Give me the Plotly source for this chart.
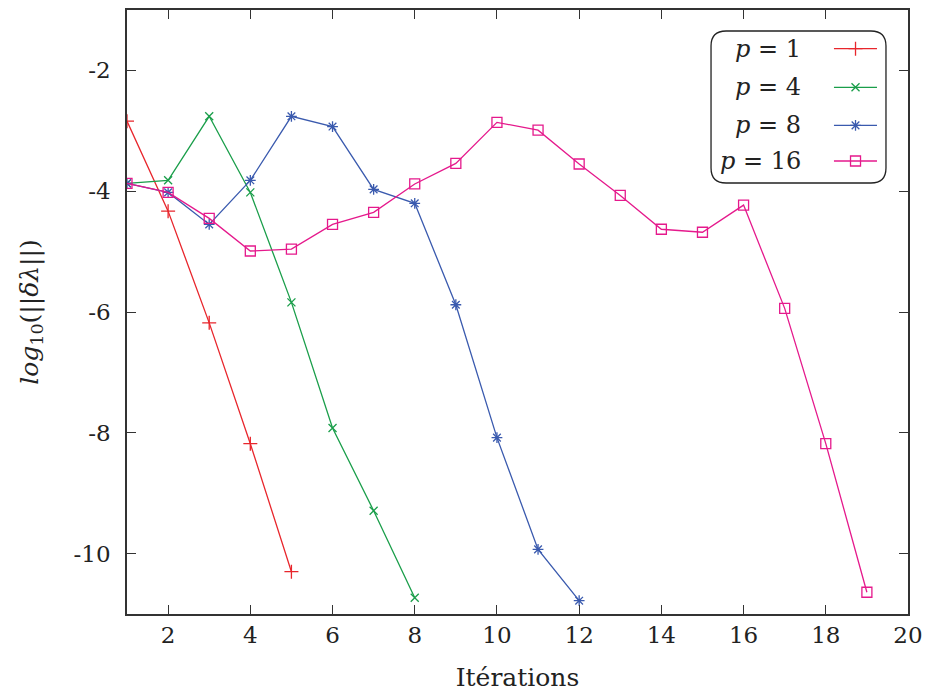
import plotly.graph_objects as go

iters_p1 = [1, 2, 3, 4, 5]
vals_p1 = [-2.84, -4.33, -6.18, -8.18, -10.30]
iters_p4 = [1, 2, 3, 4, 5, 6, 7, 8]
vals_p4 = [-3.87, -3.82, -2.76, -4.02, -5.84, -7.92, -9.29, -10.73]
iters_p8 = [1, 2, 3, 4, 5, 6, 7, 8, 9, 10, 11, 12]
vals_p8 = [-3.87, -4.02, -4.55, -3.82, -2.76, -2.93, -3.97, -4.20, -5.88, -8.08, -9.93, -10.78]
iters_p16 = list(range(1, 20))
vals_p16 = [-3.87, -4.02, -4.45, -4.99, -4.96, -4.55, -4.35, -3.88, -3.54, -2.86,
            -2.99, -3.55, -4.07, -4.63, -4.68, -4.23, -5.94, -8.18, -10.64]

series_names = ["<i>p</i> = 1", "<i>p</i> = 4", "<i>p</i> = 8", "<i>p</i> = 16"]
colors = ["#e8262c", "#1a9e4a", "#3a5aae", "#e5198c"]
symbols = ["cross-thin-open", "x-thin-open", "asterisk-open", "square-open"]
msizes = [10, 8, 9, 10]

x_ticks = [2, 4, 6, 8, 10, 12, 14, 16, 18, 20]
y_ticks = [-10, -8, -6, -4, -2]
y_ticklabels = ["-10", "-8", "-6", "-4", "-2"]

FONT = "DejaVu Serif, Liberation Serif, Noto Serif, Times New Roman, serif"
fig = go.Figure()

data = [(iters_p1, vals_p1), (iters_p4, vals_p4), (iters_p8, vals_p8), (iters_p16, vals_p16)]
for (xs, ys), c, s, ms in zip(data, colors, symbols, msizes):
    fig.add_trace(go.Scatter(x=xs, y=ys, mode="lines+markers",
                             line=dict(color=c, width=1.3),
                             marker=dict(symbol=s, size=ms, color=c, line=dict(color=c, width=1.3)),
                             showlegend=False))

# custom legend (text left, sample right) on an overlay axis in [0,1]
row_y = [0.936, 0.872, 0.809, 0.750]
for i, (name, c, s, ms) in enumerate(zip(series_names, colors, symbols, msizes)):
    fig.add_trace(go.Scatter(x=[0.9052, 0.9603], y=[row_y[i]] * 2,
                             mode="lines", xaxis="x2", yaxis="y2",
                             line=dict(color=c, width=1.3),
                             showlegend=False, hoverinfo="skip"))
    fig.add_trace(go.Scatter(x=[0.9328], y=[row_y[i]], mode="markers", xaxis="x2", yaxis="y2",
                             marker=dict(symbol=s, size=ms, color=c, line=dict(color=c, width=1.3)),
                             showlegend=False, hoverinfo="skip"))
    fig.add_annotation(x=0.8656, y=row_y[i], xref="paper", yref="paper", text=name,
                       showarrow=False, xanchor="right", yanchor="middle",
                       font=dict(family=FONT, size=24, color="#222"))

# rounded legend box
x0, x1, y0, y1 = 0.7478, 0.9718, 0.7136, 0.9652
rx, ry = 0.0192, 0.0248
path = (f"M {x0+rx},{y0} L {x1-rx},{y0} Q {x1},{y0} {x1},{y0+ry} "
        f"L {x1},{y1-ry} Q {x1},{y1} {x1-rx},{y1} L {x0+rx},{y1} "
        f"Q {x0},{y1} {x0},{y1-ry} L {x0},{y0+ry} Q {x0},{y0} {x0+rx},{y0} Z")
fig.add_shape(type="path", path=path, xref="paper", yref="paper",
              line=dict(color="#222", width=1.3), fillcolor="white", layer="below")

axis_common = dict(showline=True, linecolor="#333", linewidth=1.5, mirror="ticks",
                   ticks="inside", ticklen=9, tickcolor="#333", tickwidth=1.2,
                   showgrid=False, zeroline=False, automargin=False,
                   tickfont=dict(family=FONT, size=23, color="#222"))

fig.update_layout(
    width=926, height=694,
    margin=dict(l=127, r=18, t=10, b=80),
    font=dict(family=FONT),
    plot_bgcolor="rgba(0,0,0,0)", paper_bgcolor="white",
    xaxis=dict(range=[1, 20], tickvals=x_ticks, **axis_common,
               title=dict(text="Itérations", font=dict(family=FONT, size=25, color="#222"),
                          standoff=21)),
    yaxis=dict(range=[-11, -1], tickvals=y_ticks, ticktext=y_ticklabels, **axis_common,
               ticklabelstandoff=10,
               title=dict(text="<i>log</i><sub>10</sub>(||<i>δλ</i>||)",
                          font=dict(family=FONT, size=25, color="#222"), standoff=28)),
    xaxis2=dict(range=[0, 1], overlaying="x", visible=False, fixedrange=True),
    yaxis2=dict(range=[0, 1], overlaying="y", visible=False, fixedrange=True),
    showlegend=False,
)

fig.write_html("out.html", config={"displayModeBar": False},
               post_script="document.body.style.margin='0';document.body.style.overflow='hidden';")
